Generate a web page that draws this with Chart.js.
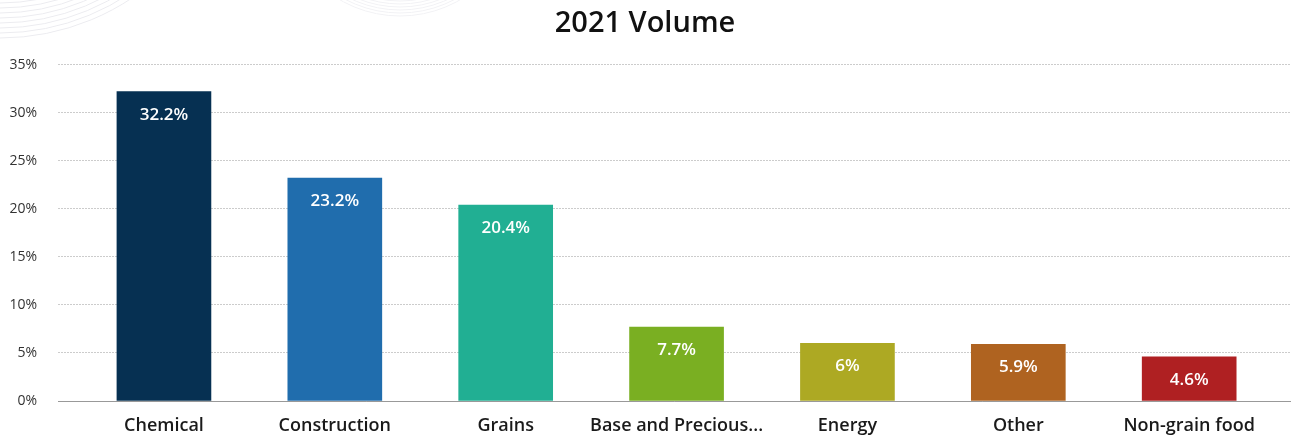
<!DOCTYPE html>
<html>
<head>
<meta charset="utf-8">
<script src="https://cdn.jsdelivr.net/npm/chart.js@4/dist/chart.umd.min.js"></script>
<style>
  html, body { margin: 0; padding: 0; background: #fff; }
  #wrap { width: 1292px; height: 439px; position: relative; }
</style>
</head>
<body>
<div id="wrap"><canvas id="chart"></canvas></div>
<script>
const categories = ['Chemical', 'Construction', 'Grains', 'Base and Precious...', 'Energy', 'Other', 'Non-grain food'];
const volume2021 = [32.2, 23.2, 20.4, 7.7, 6, 5.9, 4.6];
const barColors = ['#063052', '#206dad', '#21af93', '#7aaf22', '#ada923', '#af6320', '#af2022'];
const yTicks = [0, 5, 10, 15, 20, 25, 30, 35];

Chart.defaults.font.family = '"Open Sans", sans-serif';

// faint decorative arcs behind the chart
const arcsBg = {
    id: 'arcsBg',
    beforeDraw(chart) {
        const c = chart.ctx;
        c.save();
        c.lineWidth = 1;
        c.strokeStyle = '#ececf0';
        for (let r = 203; r <= 238; r += 5) {
            c.beginPath();
            c.arc(0, -200, r, 0, Math.PI);
            c.stroke();
        }
        c.strokeStyle = '#f2f2f5';
        for (let r = 96; r <= 120; r += 3) {
            c.beginPath();
            c.arc(400, -104, r, 0, Math.PI);
            c.stroke();
        }
        c.restore();
    }
};

// value labels inside the top of each bar
const barLabels = {
    id: 'barLabels',
    afterDatasetsDraw(chart) {
        const c = chart.ctx;
        const meta = chart.getDatasetMeta(0);
        c.save();
        c.fillStyle = '#fff';
        c.font = '600 17px "Open Sans"';
        c.textAlign = 'center';
        c.textBaseline = 'middle';
        meta.data.forEach((bar, i) => {
            c.fillText(volume2021[i] + '%', bar.x, bar.y + 23);
        });
        c.restore();
    }
};

new Chart(document.querySelector('#chart'), {
    type: 'bar',
    data: {
        datasets: [{
            label: '2021 Volume',
            data: volume2021.map((v, i) => ({ x: i, y: v })),
            backgroundColor: barColors,
            barThickness: 94
        }]
    },
    options: {
        responsive: true,
        maintainAspectRatio: false,
        animation: false,
        layout: { padding: { left: 0, right: 2, top: 0, bottom: 0 } },
        plugins: {
            legend: { display: false },
            tooltip: { enabled: false },
            title: {
                display: true,
                text: '2021 Volume',
                color: '#111',
                font: { size: 29, weight: '600' },
                padding: { top: 6, bottom: 24 }
            }
        },
        scales: {
            x: {
                type: 'linear',
                offset: false,
                min: -0.62,
                max: 6.59,
                z: 1,
                grid: { display: false, drawTicks: false },
                border: { display: true, color: 'rgba(0,0,0,0.4)', width: 1 },
                afterBuildTicks: axis => { axis.ticks = categories.map((_, i) => ({ value: i })); },
                afterFit: axis => { axis.height = 38; },
                ticks: {
                    autoSkip: false,
                    maxRotation: 0,
                    padding: 14,
                    color: '#1a1a1a',
                    font: { size: 18, weight: '600' },
                    callback: v => categories[v]
                }
            },
            y: {
                min: 0,
                max: 35,
                afterBuildTicks: axis => { axis.ticks = yTicks.map(v => ({ value: v })); },
                afterFit: axis => { axis.width = 58; },
                grid: {
                    drawTicks: false,
                    color: ctx => (ctx.tick && ctx.tick.value === 0) ? 'rgba(0,0,0,0)' : '#cccccc'
                },
                border: { display: false, dash: [2, 1] },
                ticks: {
                    padding: 21,
                    color: '#333',
                    font: { size: 14 },
                    callback: v => v + '%'
                }
            }
        }
    },
    plugins: [arcsBg, barLabels]
});
</script>
</body>
</html>
